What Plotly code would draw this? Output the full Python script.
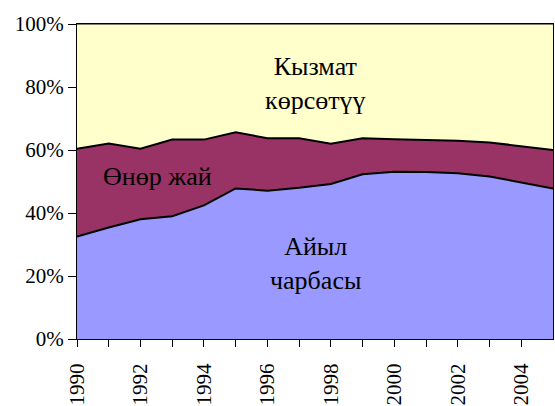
import plotly.graph_objects as go

years = list(range(1990, 2006))
# share of GDP, %
agriculture = [32.5, 35.4, 38.0, 39.0, 42.4, 47.8, 47.1, 48.0, 49.2, 52.3, 53.1, 53.0, 52.6, 51.6, 49.7, 47.8]
top_industry = [60.4, 62.1, 60.4, 63.3, 63.3, 65.6, 63.75, 63.7, 62.0, 63.75, 63.4, 63.2, 62.9, 62.4, 61.25, 60.0]
industry = [round(t - a, 2) for t, a in zip(top_industry, agriculture)]
services = [round(100 - t, 2) for t in top_industry]
y_ticks = [0, 20, 40, 60, 80, 100]
y_labels = [f"{v}%" for v in y_ticks]

serif = "Liberation Serif"

fig = go.Figure()
fig.add_trace(go.Scatter(x=years, y=agriculture, stackgroup="one", mode="lines",
                         line=dict(color="black", width=2), fillcolor="#9999FF", name="Айыл чарбасы"))
fig.add_trace(go.Scatter(x=years, y=industry, stackgroup="one", mode="lines",
                         line=dict(color="black", width=2), fillcolor="#993366", name="Өнөр жай"))
fig.add_trace(go.Scatter(x=years, y=services, stackgroup="one", mode="lines",
                         line=dict(color="black", width=1), fillcolor="#FFFFCC", name="Кызмат көрсөтүү"))

tick_text = [str(y) if y % 2 == 0 else "" for y in years[:-1]]

fig.update_layout(
    width=555, height=406,
    margin=dict(l=77, r=1, t=24, b=62),
    paper_bgcolor="white", plot_bgcolor="white",
    showlegend=False,
    font=dict(family=serif, size=21, color="black"),
    xaxis=dict(range=[1990, 2005], tickvals=years[:-1], ticktext=tick_text, tickangle=-90,
               tickfont=dict(family=serif, size=21, color="black"), ticklabelstandoff=8,
               ticks="outside", ticklen=7, tickcolor="black", showgrid=False, zeroline=False,
               showline=True, linecolor="black", linewidth=1, mirror=True),
    yaxis=dict(range=[0, 100], tickvals=y_ticks, ticktext=y_labels,
               tickfont=dict(family=serif, size=21, color="black"),
               ticks="outside", ticklen=8, tickcolor="black", showgrid=False, zeroline=False,
               showline=True, linecolor="black", linewidth=1, mirror=True),
)

label_font = dict(family=serif, size=26, color="black")
fig.add_annotation(x=1997.5, y=81, text="Кызмат<br>көрсөтүү", xref="x", yref="y",
                   showarrow=False, font=label_font)
fig.add_annotation(x=1992.55, y=51.5, text="Өнөр жай", xref="x", yref="y",
                   showarrow=False, font=label_font)
fig.add_annotation(x=1997.5, y=24, text="Айыл<br>чарбасы", xref="x", yref="y",
                   showarrow=False, font=label_font)

# remove the default page margin so the figure sits at the window's top-left corner
fig.write_html("out.html", config={"displayModeBar": False},
               post_script="document.body.style.margin='0';document.body.style.overflow='hidden';")
